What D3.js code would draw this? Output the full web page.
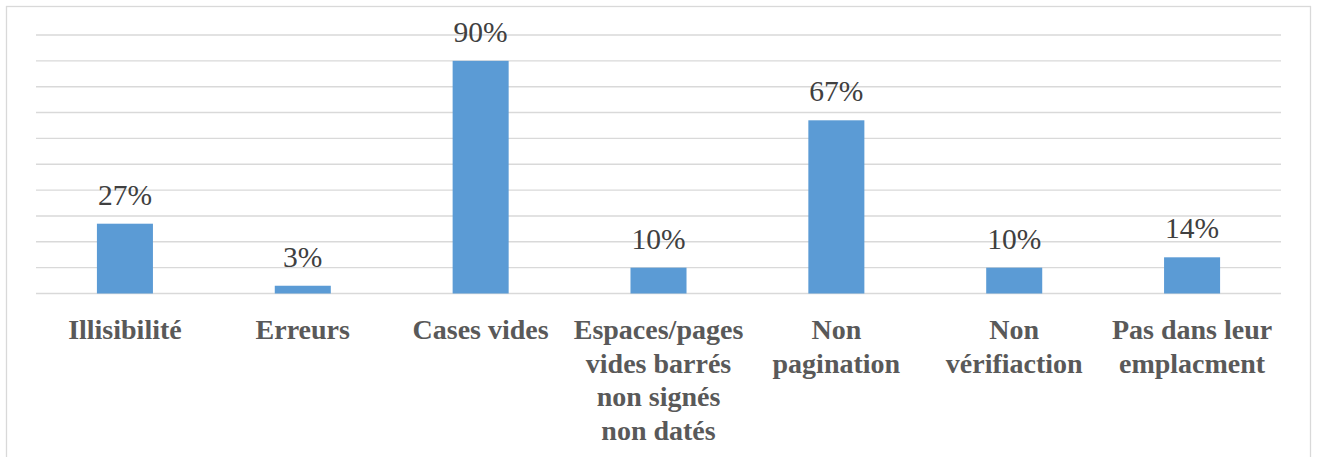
<!DOCTYPE html>
<html>
<head>
<meta charset="utf-8">
<script src="https://cdn.jsdelivr.net/npm/d3@7"></script>
<style>
  html, body { margin: 0; padding: 0; background: #fff; }
  svg { display: block; }
  #chart text, #chart tspan { font-family: "Liberation Serif", serif !important; }
</style>
</head>
<body>
<svg id="chart" width="1317" height="457"></svg>
<script>
// Categories (each entry is a list of label lines) and their percentages
const categories = [
  ["Illisibilité"],
  ["Erreurs"],
  ["Cases vides"],
  ["Espaces/pages", "vides barrés", "non signés", "non datés"],
  ["Non", "pagination"],
  ["Non", "vérifiaction"],
  ["Pas dans leur", "emplacment"]
];
const values = [27, 3, 90, 10, 67, 10, 14];
const gridTicks = [0, 10, 20, 30, 40, 50, 60, 70, 80, 90, 100];

const W = 1317, H = 457;
const margin = { left: 36, right: 36, top: 35, bottom: 163 };
const FONT = "Liberation Serif";
const svg = d3.select("#chart");

// Chart area frame
svg.append("rect")
  .attr("x", 6.5).attr("y", 6.5)
  .attr("width", 1304).attr("height", 470)
  .attr("fill", "#fff")
  .attr("stroke", "#d9d9d9").attr("stroke-width", 1.3);

const x = d3.scaleBand()
  .domain(d3.range(categories.length))
  .range([margin.left, W - margin.right])
  .paddingInner(0.685).paddingOuter(0.3425);

const y = d3.scaleLinear()
  .domain([0, 100])
  .range([H - margin.bottom - 0.5, margin.top]);

// Horizontal gridlines
svg.append("g")
  .selectAll("line")
  .data(gridTicks)
  .join("line")
  .attr("x1", margin.left).attr("x2", W - margin.right)
  .attr("y1", d => y(d)).attr("y2", d => y(d))
  .attr("stroke", "#d9d9d9").attr("stroke-width", 1.4);

// Bars
svg.append("g")
  .selectAll("rect")
  .data(values)
  .join("rect")
  .attr("x", (d, i) => x(i))
  .attr("width", x.bandwidth())
  .attr("y", d => y(d))
  .attr("height", d => y(0) - y(d))
  .attr("fill", "#5b9bd5");

// Value labels
svg.append("g")
  .selectAll("text")
  .data(values)
  .join("text")
  .attr("x", (d, i) => x(i) + x.bandwidth() / 2)
  .attr("y", d => y(d) - 19)
  .attr("text-anchor", "middle")
  .style("font-family", FONT, "important")
  .attr("font-size", 29.5)
  .attr("fill", "#404040")
  .text(d => d + "%");

// Category labels
const catG = svg.append("g");
categories.forEach((lines, i) => {
  const cx = x(i) + x.bandwidth() / 2;
  const t = catG.append("text")
    .attr("x", cx)
    .attr("y", 339)
    .attr("text-anchor", "middle")
    .style("font-family", FONT, "important")
    .attr("font-size", 28)
    .attr("font-weight", "bold")
    .attr("fill", "#595959");
  lines.forEach((ln, k) => {
    t.append("tspan")
      .attr("x", cx)
      .attr("dy", k === 0 ? 0 : 33.5)
      .text(ln);
  });
});
</script>
</body>
</html>
